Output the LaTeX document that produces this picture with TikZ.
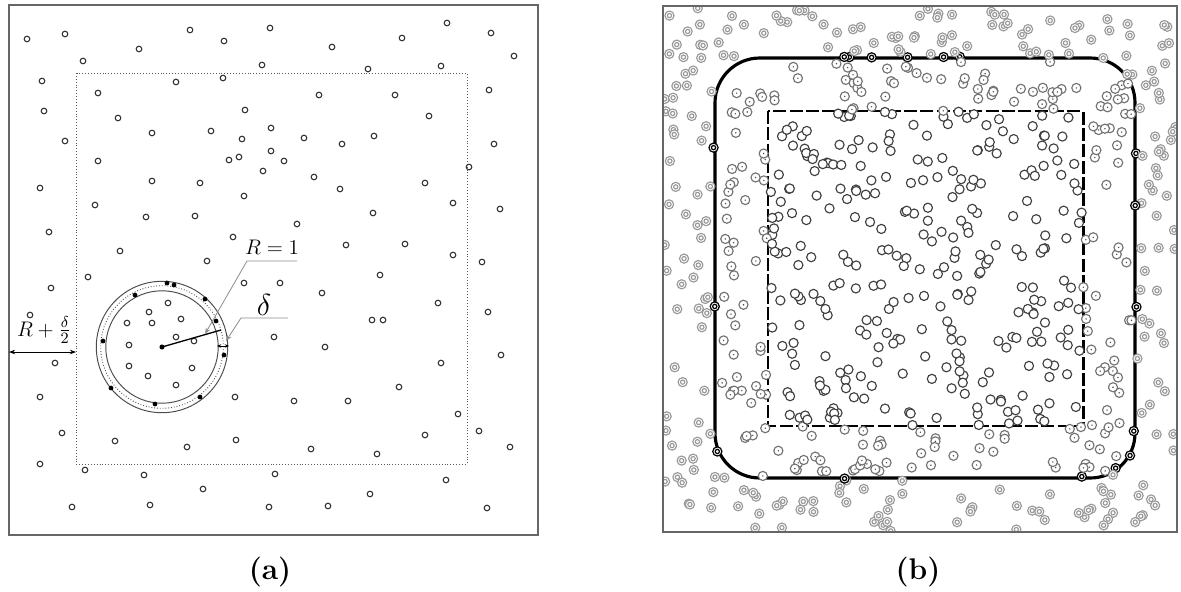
\documentclass[tikz,border=0pt]{standalone}
\usetikzlibrary{arrows.meta}
\begin{document}
\begin{tikzpicture}[x=0.02cm, y=-0.02cm,
  frame/.style={draw=black!60, line width=0.9pt},
  opendot/.style={draw=black!80, line width=0.6pt},
  fulldot/.style={fill=black},
  leader/.style={draw=black!45, line width=0.45pt},
  inring/.style={draw=black!75, fill=white, line width=0.65pt},
  midring/.style={draw=black!55, fill=white, line width=0.65pt},
  outring/.style={draw=black!40, fill=white, line width=0.65pt},
  edgering/.style={draw=black, fill=white, line width=0.7pt},
  tip/.style={>={Stealth[length=3.5pt,width=2.6pt]}}]
\useasboundingbox (0,0) rectangle (1181,592);

\draw[frame] (9,5) rectangle (538,535);
\draw[black!65, line width=0.55pt, dash pattern=on 0.55pt off 1.1pt] (76,73) rectangle (467,464);
\foreach \x/\y in {27/39,65/34,190/30,270/28,139/49,224/41,83/61,262/65,42/81,176/82,223/78,
  98/93,44/111,118/118,245/110,152/133,211/131,271/128,242/139,65/141,271/151,98/161,229/160,
  239/157,263/171,152/181,200/183,40/188,244/196,95/205,146/217,195/216,49/232,233/237,120/251,
  207/261,332/47,402/38,447/23,491/33,514/56,368/69,441/66,319/95,395/95,489/90,429/116,304/138,
  342/144,374/136,494/144,284/161,314/177,340/189,425/183,469/167,453/203,500/209,373/213,297/224,
  346/245,405/244,453/255,482/262,380/275,88/277,51/288,30/315,244/283,274/337,55/363,40/397,
  235/397,62/433,115/441,187/447,236/440,40/464,85/470,144/475,275/474,203/489,72/507,150/505,
  269/507,280/283,322/293,438/303,488/312,372/320,383/320,325/347,501/355,441/363,399/387,294/401,
  348/401,458/414,479/431,425/435,510/447,311/449,377/454,446/480,370/494,328/506,487/508,
  168/303,149/312,127/323,152/323,181/319,176/337,194/341,129/345,129/366,192/368,148/376,176/385}
  \draw[opendot] (\x,\y) circle (1.6pt);

\coordinate (ctr) at (162,347);
\draw[black!70, line width=0.55pt] (ctr) circle (37.4pt);
\draw[black!70, line width=0.5pt, dash pattern=on 0.5pt off 1.1pt] (ctr) circle (34.9pt);
\draw[black!70, line width=0.55pt] (ctr) circle (32pt);
\foreach \x/\y in {167/283,174/285,135/295,205/299,216/321,103/341,224/355,111/388,155/404,200/397}
  \fill[fulldot] (\x,\y) circle (1.35pt);
\fill[fulldot] (ctr) circle (1.45pt);
\coordinate (rend) at (221,330);
\draw[line width=0.75pt] (ctr) -- (rend);

\node[font=\fontsize{12.5}{14}\selectfont] (rone) at (272,247) {$R=1$};
\coordinate (rbend) at (247,261);
\coordinate (rtail) at (297,261);
\coordinate (rtip) at (205,334);
\draw[leader, ->, tip] (rtail) -- (rbend) -- (rtip);

\node[font=\fontsize{17}{19}\selectfont] (dlab) at (264,305) {$\delta$};
\coordinate (dbend) at (241,318);
\coordinate (dtail) at (288,318);
\coordinate (dtip) at (226,341);
\draw[leader, ->, tip] (dtail) -- (dbend) -- (dtip);
\coordinate (din) at (217,346);
\coordinate (dout) at (229,346);
\draw[<->, >={Stealth[length=2.4pt,width=2pt]}, line width=0.4pt] (din) -- (dout);

\node[font=\fontsize{12.5}{14}\selectfont] (rdlab) at (44,330) {$R+\frac{\delta}{2}$};
\coordinate (lend) at (9,352);
\coordinate (dend) at (76,352);
\draw[<->, tip, line width=0.5pt] (lend) -- (dend);

\begin{scope}
\clip (663,6) rectangle (1177,532);
\draw[line width=1.8pt, rounded corners=25.5pt] (715,58) rectangle (1135,478);
\draw[line width=1.7pt, dash pattern=on 7.4pt off 1.9pt] (768,111) rectangle (1083,426);
\pgfmathsetseed{2718}
\foreach \i in {1,...,740}{
  \pgfmathsetmacro\px{664+512*rnd}
  \pgfmathsetmacro\py{7+524*rnd}
  \pgfmathsetmacro\qx{(abs(\px-925)-165)/10}
  \pgfmathsetmacro\qy{(abs(\py-268)-165)/10}
  \pgfmathsetmacro\sd{10*(sqrt(max(\qx,0)^2+max(\qy,0)^2)+min(max(\qx,\qy),0))-45}
  \pgfmathtruncatemacro\kind{abs(\sd)<1.6 ? 3 : (\sd>0 ? 2 : ((abs(\px-925.5)<157.5 && abs(\py-268.5)<157.5) ? 0 : 1))}
  \ifcase\kind
    \draw[inring] (\px,\py) circle (2.6pt);
  \or
    \draw[midring] (\px,\py) circle (2.6pt);
    \fill[black!70] (\px,\py) circle (0.45pt);
  \or
    \draw[outring] (\px,\py) circle (2.6pt);
    \draw[outring] (\px,\py) circle (1.2pt);
  \or
    \draw[edgering] (\px,\py) circle (2.6pt);
    \draw[edgering] (\px,\py) circle (1.2pt);
  \fi
}
\end{scope}
\draw[frame] (663,6) rectangle (1177,532);

\node[font=\fontsize{17}{19}\selectfont\bfseries] (capa) at (270,572) {(a)};
\node[font=\fontsize{17}{19}\selectfont\bfseries] (capb) at (918,572) {(b)};
\end{tikzpicture}
\end{document}
